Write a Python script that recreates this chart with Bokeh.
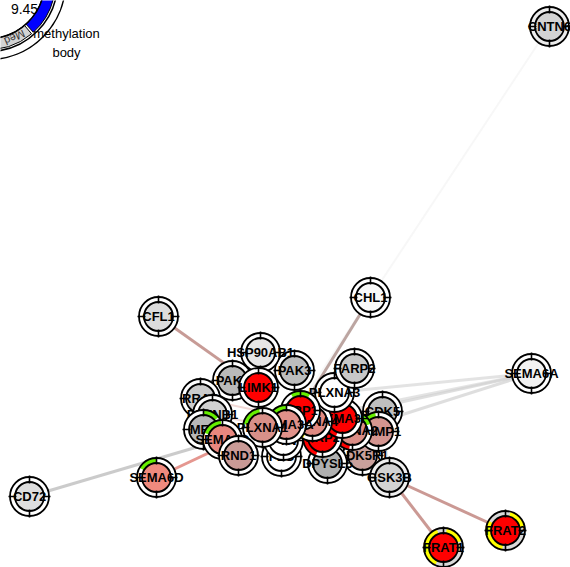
import math
from bokeh.plotting import figure
from bokeh.models import Range1d
from bokeh.embed import file_html
from bokeh.resources import INLINE
from bokeh.core.properties import value

# ---------------- data ----------------
PAGE_W, PAGE_H = 570, 567
names = ["CNTN6", "CHL1", "CFL1", "SEMA6A", "CD72", "SEMA6D", "FRAT1", "FRAT2",
         "CDK5R1", "DPYSL5", "GSK3B", "FES", "FYN", "CDK5", "CRMP1", "PLXNA2",
         "NRP2", "SEMA3F", "PLXNA4", "PLXNA3", "FARP2", "NRP1", "SEMA3A", "PLXNA1",
         "PAK3", "HSP90AB1", "PAK1", "LIMK1", "RRAS", "PLXNB1", "MET", "SEMA4D", "RND1"]
node_x = [549, 370, 158, 531, 29, 156, 443, 505,
          362, 327, 389, 281, 283, 382, 378, 352,
          322, 342, 312, 334, 354, 300, 286, 262,
          294, 260, 232, 258, 200, 212, 203, 222, 238]
node_py = [26, 297, 316, 373, 496, 477, 547, 530,
           455, 463, 477, 456, 440, 411, 431, 430,
           437, 418, 421, 392, 368, 410, 424, 427,
           370, 352, 380, 387, 398, 414, 429, 439, 455]
fills = ["#d3d3d3", "#f8f8f8", "#dcdcdc", "#f2f2f2", "#dedede", "#ef8a7e", "#ff0000", "#ff0000",
         "#c9a09c", "#b0b0b0", "#d3d3d3", "#ffffff", "#ffffff", "#bfbfbf", "#d49590", "#d98c85",
         "#ff0000", "#ff0000", "#e08a82", "#ffffff", "#c8c8c8", "#ff0000", "#e0918a", "#d89089",
         "#bdbdbd", "#e6e6e6", "#bababa", "#ff0000", "#cccccc", "#d0d0d0", "#b8b8b8", "#e8877f", "#c99a96"]
ring_fill = {"FRAT1": "#d9d9d9", "FRAT2": "#d9d9d9", "CNTN6": "#ececec", "GSK3B": "#f0f0f0"}

arc_node = ["SEMA6D", "SEMA4D", "FRAT1", "FRAT1", "FRAT2", "FRAT2", "DPYSL5",
            "PLXNA1", "SEMA3A", "NRP1", "PLXNA2", "PLXNA2", "SEMA3F", "PLXNA4", "NRP2", "CRMP1", "MET"]
arc_color = ["#66ee00", "#66ee00", "#ffff00", "#ffff00", "#ffff00", "#ffff00", "#ffff00",
             "#66ee00", "#66ee00", "#66ee00", "#ff0000", "#66ee00", "#ff0000", "#ffff00", "#ff0000", "#66ee00", "#66ee00"]
arc_start = [90, 95, 110, 20, 150, 10, 55,
             100, 90, 60, 100, 20, 90, 180, 120, 100, 40]
arc_end = [150, 160, 245, 80, 260, 75, 125,
           170, 150, 120, 260, 80, 250, 240, 250, 150, 90]

edge_src = ["SEMA6A", "SEMA6A", "SEMA6A", "SEMA6A", "CNTN6", "CD72", "SEMA6D", "CFL1", "CHL1",
            "GSK3B", "GSK3B", "PLXNB1", "PLXNB1", "RRAS", "MET", "PLXNB1", "PAK1", "PAK3",
            "FARP2", "FYN", "FES", "CDK5", "CDK5R1", "DPYSL5", "GSK3B", "NRP1", "NRP2",
            "PLXNA4", "RRAS", "PLXNA3", "SEMA3A"]
edge_dst = ["PLXNA2", "PLXNA4", "PLXNA1", "PLXNA3", "SEMA3A", "SEMA4D", "PLXNA1", "LIMK1", "NRP1",
            "FRAT1", "FRAT2", "SEMA4D", "RND1", "PLXNB1", "PLXNB1", "NRP2", "LIMK1", "LIMK1",
            "PLXNA1", "PLXNA1", "PLXNA1", "CRMP1", "CDK5", "CRMP1", "CDK5", "SEMA3A", "SEMA3F",
            "NRP1", "PLXNA2", "CRMP1", "PLXNA4"]
edge_color = ["#d0d0d0", "#d0d0d0", "#d0d0d0", "#d0d0d0", "#d0d0d0", "#c8c8c8", "#e0857c", "#c49690", "#b8a09c",
              "#c8948e", "#c8948e", "#e6b4ae", "#e6b4ae", "#e6b4ae", "#e6b4ae", "#e6b4ae", "#d9a8a2", "#d9a8a2",
              "#d9d9d9", "#d9d9d9", "#d9d9d9", "#e6b4ae", "#e6b4ae", "#d9d9d9", "#d9d9d9", "#e6b4ae", "#e6b4ae",
              "#e6b4ae", "#e6b4ae", "#d9d9d9", "#e6b4ae"]
edge_width = [3, 3, 3, 3, 2, 3, 3, 3, 3,
              3, 3, 2, 2, 2, 2, 2, 2, 2,
              2, 2, 2, 2, 2, 2, 2, 2, 2,
              2, 2, 2, 2]
edge_alpha = [0.7, 0.7, 0.6, 0.6, 0.18, 0.95, 0.85, 0.95, 0.95,
              0.95, 0.95, 0.6, 0.6, 0.6, 0.6, 0.5, 0.6, 0.6,
              0.6, 0.6, 0.6, 0.6, 0.6, 0.6, 0.6, 0.6, 0.6,
              0.6, 0.5, 0.6, 0.6]

# legend-like circle (top left, partly off page)
leg_cx, leg_cy = -12, -18
leg_ring = (69, 77)
leg_band = (56, 67)
leg_seg_color = ["#0000ff", "#d3d3d3"]
leg_seg_from = [14, 50]   # screen degrees, clockwise
leg_seg_to = [48, 95]
leg_value = "9.45"
leg_caption = ["methylation", "body"]

R_IN, R_OUT = 14.5, 19.5

# ---------------- figure ----------------
p = figure(width=PAGE_W, height=PAGE_H, x_range=Range1d(0, PAGE_W), y_range=Range1d(0, PAGE_H),
           output_backend="svg", toolbar_location=None, min_border=0,
           x_axis_location=None, y_axis_location=None)
p.grid.visible = False
p.outline_line_color = None
p.background_fill_color = "white"

def Y(py):
    return PAGE_H - py

# legend circle
lx, ly = leg_cx, Y(leg_cy)
p.annulus(x=[lx], y=[ly], inner_radius=leg_ring[0], outer_radius=leg_ring[1],
          fill_color="white", line_color="black", line_width=1.5)
for c, a0, a1 in zip(leg_seg_color, leg_seg_from, leg_seg_to):
    p.annular_wedge(x=[lx], y=[ly], inner_radius=leg_band[0], outer_radius=leg_band[1],
                    start_angle=-a1, end_angle=-a0, start_angle_units="deg", end_angle_units="deg",
                    fill_color=c, line_color="black", line_width=1)
p.circle(x=[lx], y=[ly], radius=leg_band[0], fill_color=None, line_color="black", line_width=1.5)
p.text(x=[24], y=[Y(3)], text=[leg_value], text_align="center", text_baseline="top",
       text_font=value("Liberation Sans"), text_font_size="14px", text_color="black")
p.text(x=[14], y=[Y(37)], text=["Med"], angle=204, angle_units="deg", text_align="center",
       text_baseline="middle", text_font=value("Liberation Sans"), text_font_size="11px",
       text_color="#333333")
for i, t in enumerate(leg_caption):
    p.text(x=[66], y=[Y(33 + 19 * i)], text=[t], text_align="center", text_baseline="middle",
           text_font=value("Liberation Sans"), text_font_size="13px", text_color="black")

# edges
idx = {n: i for i, n in enumerate(names)}
x0 = [node_x[idx[s]] for s in edge_src]
y0 = [Y(node_py[idx[s]]) for s in edge_src]
x1 = [node_x[idx[d]] for d in edge_dst]
y1 = [Y(node_py[idx[d]]) for d in edge_dst]
p.segment(x0=x0, y0=y0, x1=x1, y1=y1, line_color=edge_color, line_width=edge_width,
          line_alpha=edge_alpha)

# nodes, one by one so that they overlap properly
for i, n in enumerate(names):
    x, y = node_x[i], Y(node_py[i])
    p.annulus(x=[x], y=[y], inner_radius=R_IN, outer_radius=R_OUT,
              fill_color=ring_fill.get(n, "white"), line_color=None)
    for an, ac, a0, a1 in zip(arc_node, arc_color, arc_start, arc_end):
        if an == n:
            p.annular_wedge(x=[x], y=[y], inner_radius=R_IN, outer_radius=R_OUT,
                            start_angle=a0, end_angle=a1, start_angle_units="deg",
                            end_angle_units="deg", fill_color=ac, line_color=None)
    p.circle(x=[x], y=[y], radius=R_OUT, fill_color=None, line_color="black", line_width=1.8)
    p.circle(x=[x], y=[y], radius=R_IN, fill_color=fills[i], line_color="black", line_width=1.8)
    tx0, ty0, tx1, ty1 = [], [], [], []
    for k in range(4):
        a = k * math.pi / 2
        tx0.append(x + 13.0 * math.cos(a)); ty0.append(y + 13.0 * math.sin(a))
        tx1.append(x + 21.0 * math.cos(a)); ty1.append(y + 21.0 * math.sin(a))
    p.segment(x0=tx0, y0=ty0, x1=tx1, y1=ty1, line_color="black", line_width=1.6)
    p.text(x=[x], y=[y], text=[n], text_align="center", text_baseline="middle",
           text_font=value("Liberation Sans"), text_font_style="bold", text_font_size="13px",
           text_color="black")

open("out.html", "w").write(file_html(p, INLINE))
